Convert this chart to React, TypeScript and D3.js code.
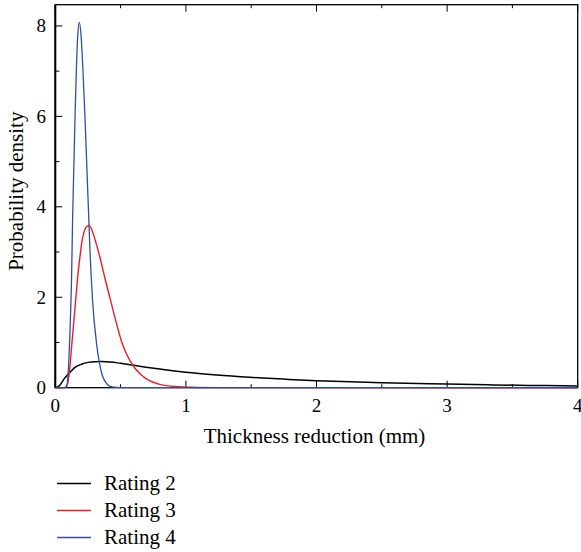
import React from "react";
import * as d3 from "d3";

const xTicksMajor = [0, 1, 2, 3, 4];
const yTicksMajor = [0, 2, 4, 6, 8];

const seriesNames = ["Rating 2", "Rating 3", "Rating 4"];
const seriesColors = ["#000000", "#ee1c24", "#2f4fa6"];

// Rating 2 (black)
const rating2X = [0, 0.03, 0.074, 0.1, 0.151, 0.2, 0.253, 0.3, 0.355, 0.42, 0.5, 0.572, 0.725, 0.853, 1.0, 1.236, 1.49, 1.746, 2.0, 2.256, 2.5, 3.0, 3.35, 3.76, 4.0];
const rating2Y = [0, 0.04, 0.22, 0.3, 0.45, 0.52, 0.56, 0.575, 0.578, 0.57, 0.54, 0.51, 0.44, 0.39, 0.34, 0.28, 0.23, 0.19, 0.155, 0.13, 0.11, 0.08, 0.062, 0.047, 0.04];

// Rating 3 (red)
const rating3X = [0, 0.07, 0.09, 0.107, 0.127, 0.158, 0.175, 0.191, 0.205, 0.22, 0.235, 0.255, 0.27, 0.285, 0.305, 0.342, 0.38, 0.42, 0.47, 0.51, 0.54, 0.572, 0.61, 0.649, 0.7, 0.75, 0.8, 0.853, 0.92, 0.978, 1.1, 1.3, 4.0];
const rating3Y = [0, 0, 0.05, 0.32, 0.98, 2.0, 2.55, 2.95, 3.25, 3.44, 3.55, 3.58, 3.55, 3.45, 3.27, 2.88, 2.42, 1.97, 1.4, 1.0, 0.78, 0.6, 0.43, 0.31, 0.19, 0.12, 0.075, 0.045, 0.025, 0.015, 0.005, 0.001, 0];

// Rating 4 (blue)
const rating4X = [0, 0.07, 0.085, 0.1, 0.113, 0.125, 0.133, 0.143, 0.151, 0.161, 0.172, 0.184, 0.197, 0.212, 0.227, 0.24, 0.253, 0.266, 0.286, 0.317, 0.355, 0.39, 0.42, 0.47, 0.55, 4.0];
const rating4Y = [0, 0, 0.02, 0.4, 1.3, 2.5, 3.8, 5.0, 6.0, 7.0, 7.8, 8.08, 7.8, 7.0, 6.0, 5.0, 4.0, 3.0, 1.9, 0.95, 0.32, 0.1, 0.03, 0.005, 0, 0];

const W = 581;
const H = 552;
const left = 55.3;
const right = 577.7;
const top = 4.7;
const bottom = 387.7;

export default function App() {
  const x = d3.scaleLinear().domain([0, 4]).range([left, right]);
  const y = d3.scaleLinear().domain([0, 8.47]).range([bottom, top]);

  const series = [
    { xs: rating2X, ys: rating2Y, w: 1.5 },
    { xs: rating3X, ys: rating3Y, w: 1.4 },
    { xs: rating4X, ys: rating4Y, w: 1.3 },
  ];

  const line = d3
    .line<[number, number]>()
    .x((d) => x(d[0]))
    .y((d) => y(d[1]))
    .curve(d3.curveMonotoneX);

  const xAll = d3.range(0, 4.001, 0.5);
  const yAll = d3.range(0, 8.001, 1);
  const font = "'Liberation Serif', 'DejaVu Serif', serif";

  return (
    <svg
      width={W}
      height={H}
      style={{ position: "absolute", left: 0, top: 0, background: "#fff" }}
      fontFamily={font}
    >
      <defs>
        <clipPath id="plotclip">
          <rect x={left} y={top} width={right - left} height={bottom - top + 1} />
        </clipPath>
      </defs>
      {/* frame */}
      <rect x={left} y={top} width={right - left} height={bottom - top} fill="none" stroke="#000" strokeWidth={1.3} />
      <line x1={left} x2={left} y1={top} y2={bottom} stroke="#000" strokeWidth={2} />
      {/* x ticks bottom & top */}
      {xAll.map((v, i) => {
        const major = Number.isInteger(v);
        const len = major ? 7 : 3.5;
        return (
          <g key={"xt" + i}>
            <line x1={x(v)} x2={x(v)} y1={bottom} y2={bottom - len} stroke="#000" strokeWidth={1} />
            <line x1={x(v)} x2={x(v)} y1={top} y2={top + len} stroke="#000" strokeWidth={1} />
          </g>
        );
      })}
      {/* y ticks left */}
      {yAll.map((v, i) => {
        const major = v % 2 === 0;
        const len = major ? 7 : 4;
        return (
          <line key={"yt" + i} x1={left} x2={left + len} y1={y(v)} y2={y(v)} stroke="#000" strokeWidth={1} />
        );
      })}
      {/* x tick labels */}
      {xTicksMajor.map((v) => (
        <text key={"xl" + v} x={x(v)} y={412} textAnchor="middle" fontSize={19} fill="#000">
          {v}
        </text>
      ))}
      {/* y tick labels */}
      {yTicksMajor.map((v) => (
        <text key={"yl" + v} x={46} y={y(v) + 6.5} textAnchor="end" fontSize={19} fill="#000">
          {v}
        </text>
      ))}
      {/* axis titles */}
      <text x={(left + right) / 2 - 2} y={443} textAnchor="middle" fontSize={21} fill="#000">
        Thickness reduction (mm)
      </text>
      <text
        transform={`translate(23, ${(top + bottom) / 2 - 5}) rotate(-90)`}
        textAnchor="middle"
        fontSize={21}
        fill="#000"
      >
        Probability density
      </text>
      {/* curves */}
      <g clipPath="url(#plotclip)">
        {series.map((s, i) => (
          <path
            key={"s" + i}
            d={line(s.xs.map((xv, j) => [xv, s.ys[j]] as [number, number])) || ""}
            fill="none"
            stroke={seriesColors[i]}
            strokeWidth={s.w}
          />
        ))}
      </g>
      {/* legend */}
      {seriesNames.map((n, i) => {
        const cy = 483.5 + i * 27;
        return (
          <g key={"lg" + i}>
            <line x1={57} x2={91} y1={cy} y2={cy} stroke={seriesColors[i]} strokeWidth={1.3} />
            <text x={104} y={cy + 6.5} fontSize={21} fill="#000">
              {n}
            </text>
          </g>
        );
      })}
    </svg>
  );
}
